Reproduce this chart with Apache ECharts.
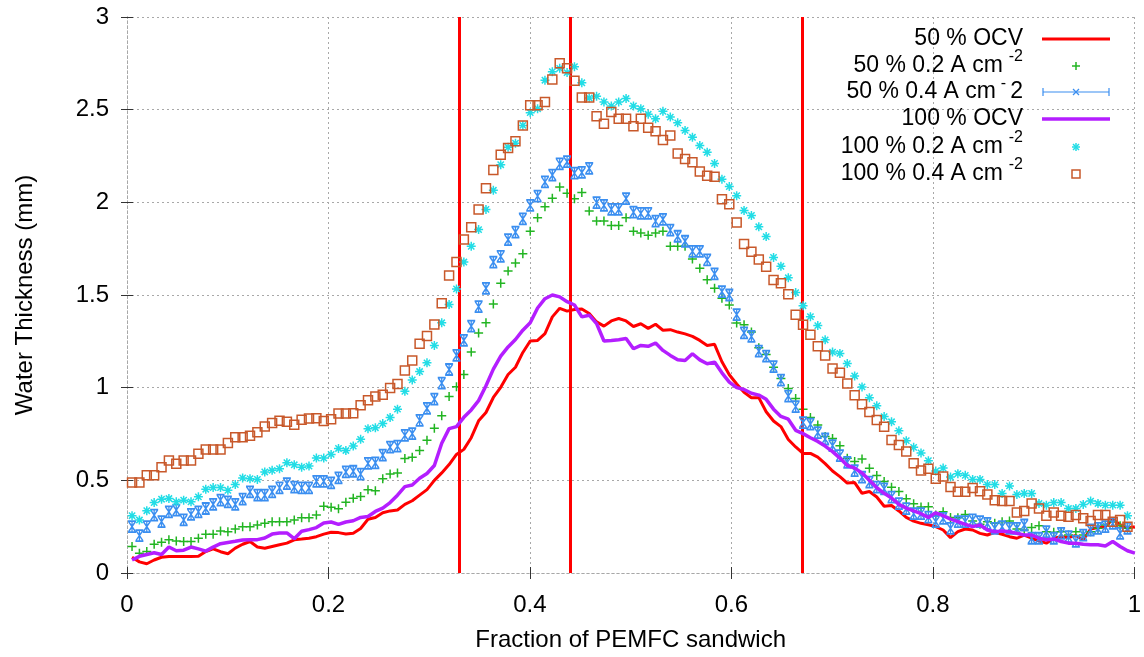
<!DOCTYPE html>
<html><head><meta charset="utf-8">
<script src="https://cdn.jsdelivr.net/npm/echarts@6/dist/echarts.min.js"></script>
<style>html,body{margin:0;padding:0;background:#fff}#c{width:1144px;height:657px}</style>
</head><body><div id="c"></div>
<script>
// sampling grid along the sandwich (fraction)
const xStart = 0.005, xStep = 0.00732;

const xTicks = [0, 0.2, 0.4, 0.6, 0.8, 1];
const yTicks = [0, 0.5, 1, 1.5, 2, 2.5, 3];
const dividers = [0.327, 0.438, 0.672];

const seriesNames = ['50 % OCV', '50 % 0.2 A cm-2', '50 % 0.4 A cm-2', '100 % OCV', '100 % 0.2 A cm-2', '100 % 0.4 A cm-2'];

// 50 % OCV (red line)
const red50 = [0.085,0.06,0.05,0.07,0.085,0.089,0.089,0.089,0.089,0.09,0.116,0.13,0.115,0.104,0.134,0.155,0.17,0.14,0.134,0.143,
0.152,0.161,0.179,0.183,0.188,0.196,0.21,0.22,0.218,0.21,0.215,0.24,0.29,0.299,0.325,0.335,0.34,0.37,0.39,0.42,
0.45,0.50,0.54,0.585,0.64,0.667,0.73,0.821,0.866,0.947,1.002,1.071,1.11,1.19,1.252,1.255,1.292,1.382,1.428,1.413,
1.422,1.424,1.40,1.355,1.332,1.36,1.373,1.36,1.33,1.345,1.32,1.342,1.31,1.313,1.30,1.29,1.277,1.255,1.228,1.234,
1.14,1.07,1.02,0.975,0.946,0.946,0.87,0.82,0.79,0.72,0.68,0.645,0.645,0.625,0.59,0.55,0.52,0.485,0.488,0.43,
0.44,0.41,0.36,0.364,0.335,0.30,0.28,0.268,0.26,0.25,0.232,0.191,0.223,0.2375,0.232,0.214,0.205,0.22,0.209,0.196,
0.1875,0.205,0.1875,0.173,0.161,0.1875,0.196,0.191,0.202,0.179,0.2375,0.245,0.25,0.29,0.26,0.241,0.25];

// 50 % 0.2 A cm-2 (green +)
const green50 = [0.143,0.107,0.116,0.155,0.166,0.179,0.173,0.17,0.17,0.188,0.209,0.209,0.227,0.223,0.238,0.25,0.25,0.259,0.268,0.277,
0.277,0.277,0.286,0.298,0.298,0.313,0.36,0.355,0.346,0.382,0.404,0.413,0.449,0.444,0.509,0.534,0.54,0.618,0.625,0.661,
0.716,0.781,0.848,0.953,1.005,1.071,1.192,1.295,1.35,1.451,1.563,1.63,1.672,1.723,1.844,1.917,1.976,2.022,2.083,2.049,
2.02,2.053,1.953,1.899,1.899,1.875,1.875,1.917,1.844,1.835,1.822,1.835,1.844,1.763,1.763,1.763,1.694,1.645,1.582,1.536,
1.482,1.446,1.349,1.34,1.30,1.215,1.179,1.11,1.05,0.995,0.941,0.884,0.839,0.798,0.737,0.726,0.687,0.619,0.601,0.615,
0.565,0.526,0.494,0.463,0.44,0.401,0.374,0.356,0.357,0.3125,0.33,0.30,0.298,0.316,0.28,0.2625,0.277,0.268,0.277,0.28,
0.2375,0.232,0.245,0.255,0.223,0.22,0.223,0.205,0.223,0.205,0.223,0.241,0.259,0.277,0.255,0.241,0.232];

// 50 % 0.4 A cm-2 (blue error-bar markers)
const blue50 = [0.25,0.202,0.25,0.3125,0.277,0.33,0.339,0.286,0.316,0.33,0.348,0.37,0.393,0.384,0.37,0.398,0.438,0.42,0.42,0.438,
0.459,0.482,0.464,0.459,0.459,0.495,0.495,0.486,0.513,0.545,0.549,0.534,0.591,0.594,0.636,0.679,0.685,0.743,0.752,0.824,
0.888,0.938,1.025,1.098,1.174,1.255,1.332,1.437,1.536,1.678,1.708,1.799,1.839,1.911,1.984,2.034,2.11,2.147,2.207,2.219,
2.158,2.161,2.183,1.998,1.984,1.962,1.962,2.02,1.947,1.94,1.94,1.899,1.908,1.85,1.817,1.79,1.736,1.736,1.69,1.614,
1.518,1.50,1.394,1.295,1.277,1.197,1.17,1.113,1.041,0.955,0.898,0.812,0.803,0.758,0.723,0.687,0.633,0.597,0.553,0.517,
0.49,0.463,0.454,0.41,0.374,0.347,0.32,0.32,0.302,0.277,0.295,0.241,0.277,0.277,0.286,0.277,0.268,0.241,0.25,0.241,
0.241,0.259,0.1875,0.1875,0.223,0.1875,0.214,0.196,0.17,0.205,0.232,0.241,0.25,0.268,0.214,0.241,0.241];

// 100 % OCV (purple line)
const purple100 = [0.07,0.09,0.10,0.109,0.10,0.14,0.12,0.123,0.14,0.13,0.118,0.14,0.158,0.165,0.171,0.178,0.18,0.18,0.189,0.21,
0.216,0.216,0.185,0.225,0.234,0.245,0.27,0.275,0.262,0.275,0.282,0.30,0.305,0.332,0.35,0.38,0.42,0.466,0.475,0.511,
0.537,0.58,0.70,0.779,0.79,0.84,0.88,0.93,1.01,1.10,1.17,1.22,1.26,1.31,1.35,1.43,1.48,1.50,1.49,1.464,
1.446,1.382,1.391,1.346,1.252,1.255,1.259,1.265,1.21,1.228,1.223,1.241,1.201,1.174,1.15,1.147,1.183,1.15,1.129,1.138,
1.08,1.03,1.00,0.99,0.97,0.96,0.937,0.884,0.845,0.83,0.77,0.752,0.73,0.71,0.685,0.655,0.62,0.58,0.566,0.54,
0.50,0.46,0.43,0.405,0.37,0.35,0.335,0.32,0.30,0.325,0.31,0.291,0.277,0.2625,0.25,0.259,0.232,0.223,0.227,0.223,
0.214,0.205,0.205,0.1875,0.179,0.184,0.17,0.161,0.161,0.155,0.152,0.152,0.146,0.17,0.143,0.12,0.107];

// 100 % 0.2 A cm-2 (cyan stars)
const cyan100 = [0.309,0.286,0.336,0.38,0.398,0.402,0.384,0.393,0.384,0.411,0.452,0.461,0.461,0.446,0.477,0.513,0.509,0.505,0.545,0.554,
0.563,0.595,0.584,0.571,0.577,0.62,0.62,0.64,0.672,0.661,0.685,0.721,0.779,0.784,0.806,0.839,0.884,0.98,1.042,1.087,
1.134,1.228,1.35,1.449,1.533,1.678,1.763,1.853,1.962,2.065,2.203,2.297,2.319,2.415,2.484,2.505,2.659,2.705,2.723,2.70,
2.732,2.645,2.563,2.572,2.542,2.52,2.542,2.56,2.52,2.505,2.475,2.451,2.491,2.46,2.429,2.388,2.351,2.306,2.27,2.21,
2.125,2.085,2.036,1.956,1.929,1.868,1.815,1.703,1.655,1.593,1.513,1.442,1.383,1.335,1.258,1.192,1.185,1.13,1.063,1.004,
0.946,0.902,0.844,0.816,0.767,0.714,0.678,0.648,0.606,0.55,0.566,0.518,0.536,0.527,0.505,0.505,0.477,0.477,0.429,0.47,
0.423,0.429,0.429,0.375,0.366,0.38,0.38,0.348,0.348,0.37,0.388,0.375,0.366,0.366,0.366,0.309,0.295];

// 100 % 0.4 A cm-2 (brown squares)
const brown100 = [0.488,0.488,0.527,0.527,0.571,0.607,0.589,0.607,0.607,0.643,0.666,0.666,0.666,0.702,0.732,0.732,0.741,0.759,0.791,0.809,
0.821,0.816,0.80,0.827,0.834,0.835,0.82,0.83,0.86,0.861,0.862,0.905,0.932,0.953,0.962,0.998,1.02,1.092,1.147,1.237,
1.279,1.341,1.455,1.605,1.678,1.799,1.866,1.962,2.076,2.174,2.257,2.293,2.33,2.415,2.524,2.524,2.542,2.663,2.75,2.723,
2.656,2.565,2.565,2.464,2.424,2.487,2.451,2.451,2.41,2.451,2.402,2.384,2.337,2.36,2.264,2.234,2.216,2.167,2.143,2.138,
2.016,1.989,1.891,1.775,1.733,1.692,1.653,1.581,1.564,1.504,1.394,1.34,1.286,1.224,1.174,1.104,1.08,1.023,0.959,0.911,
0.869,0.825,0.789,0.717,0.69,0.655,0.592,0.553,0.562,0.509,0.521,0.464,0.438,0.438,0.459,0.441,0.423,0.393,0.388,0.388,
0.327,0.334,0.375,0.348,0.309,0.327,0.309,0.304,0.3125,0.295,0.28,0.3125,0.3125,0.277,0.286,0.25,0.2375];

const xs = red50.map((_, i) => +(xStart + i * xStep).toFixed(5));
const pts = ys => ys.map((y, i) => [xs[i], y]);

const C = {red:'#ff0000', green:'#22b522', blue:'#3a8ef0', purple:'#b41eff', cyan:'#22dde6', brown:'#c8582a'};
const PLUS = 'path://M5,0L5,10M0,5L10,5';
const STAR = 'path://M5,0L5,10M0,5L10,5M1.5,1.5L8.5,8.5M8.5,1.5L1.5,8.5';
const HOUR = 'path://M0,0L8,0M0,12L8,12M4,0L4,12M0.6,0.6L7.4,11.4M7.4,0.6L0.6,11.4';

const FONT = '"Liberation Sans", Arial, sans-serif';
const gridLine = {show:true, lineStyle:{color:'#a8a8a8', type:[2,3], width:1}};
const tick = {show:true, inside:true, length:6, lineStyle:{color:'#333', width:1}};

const chart = echarts.init(document.getElementById('c'), null, {renderer:'canvas'});

const L = {x:1023, rows:[39, 66, 92, 119, 147, 174], sx1:1042, sx2:1110, sc:1076};
const font = '23px ' + FONT, supFont = '16px ' + FONT;
function txt(t, x, y, f, align) {
  return {type:'text', x, y, z:100, style:{text:t, font:f || font, fill:'#000', align:align||'right', verticalAlign:'middle', textAlign:align||'right', textVerticalAlign:'middle'}};
}
const legendGfx = [
  txt(seriesNames[0], L.x, L.rows[0]),
  txt('50 % 0.2 A cm', 1003, L.rows[1]), txt('-2', L.x, L.rows[1]-9, supFont),
  txt('50 % 0.4 A cm', 996, L.rows[2]), txt('-', 1006, L.rows[2]-8, supFont), txt('2', L.x, L.rows[2]),
  txt(seriesNames[3], L.x, L.rows[3]),
  txt('100 % 0.2 A cm', 1003, L.rows[4]), txt('-2', L.x, L.rows[4]-9, supFont),
  txt('100 % 0.4 A cm', 1003, L.rows[5]), txt('-2', L.x, L.rows[5]-9, supFont),
  {type:'line', z:100, shape:{x1:L.sx1, y1:L.rows[0], x2:L.sx2, y2:L.rows[0]}, style:{stroke:C.red, lineWidth:3}},
  {type:'group', z:100, children:[
    {type:'line', shape:{x1:L.sc-4, y1:L.rows[1], x2:L.sc+4, y2:L.rows[1]}, style:{stroke:C.green, lineWidth:1.5}},
    {type:'line', shape:{x1:L.sc, y1:L.rows[1]-4, x2:L.sc, y2:L.rows[1]+4}, style:{stroke:C.green, lineWidth:1.5}}]},
  {type:'group', z:100, children:[
    {type:'line', shape:{x1:L.sx1+1, y1:L.rows[2], x2:L.sx2-1, y2:L.rows[2]}, style:{stroke:C.blue, lineWidth:1.2}},
    {type:'line', shape:{x1:L.sx1+1, y1:L.rows[2]-4, x2:L.sx1+1, y2:L.rows[2]+4}, style:{stroke:C.blue, lineWidth:1.2}},
    {type:'line', shape:{x1:L.sx2-1, y1:L.rows[2]-4, x2:L.sx2-1, y2:L.rows[2]+4}, style:{stroke:C.blue, lineWidth:1.2}},
    {type:'line', shape:{x1:L.sc-3, y1:L.rows[2]-3, x2:L.sc+3, y2:L.rows[2]+3}, style:{stroke:C.blue, lineWidth:1.2}},
    {type:'line', shape:{x1:L.sc-3, y1:L.rows[2]+3, x2:L.sc+3, y2:L.rows[2]-3}, style:{stroke:C.blue, lineWidth:1.2}}]},
  {type:'line', z:100, shape:{x1:L.sx1, y1:L.rows[3], x2:L.sx2, y2:L.rows[3]}, style:{stroke:C.purple, lineWidth:3.5}},
  {type:'group', z:100, children:[
    {type:'line', shape:{x1:L.sc-4, y1:L.rows[4], x2:L.sc+4, y2:L.rows[4]}, style:{stroke:C.cyan, lineWidth:1.5}},
    {type:'line', shape:{x1:L.sc, y1:L.rows[4]-4, x2:L.sc, y2:L.rows[4]+4}, style:{stroke:C.cyan, lineWidth:1.5}},
    {type:'line', shape:{x1:L.sc-3, y1:L.rows[4]-3, x2:L.sc+3, y2:L.rows[4]+3}, style:{stroke:C.cyan, lineWidth:1.5}},
    {type:'line', shape:{x1:L.sc-3, y1:L.rows[4]+3, x2:L.sc+3, y2:L.rows[4]-3}, style:{stroke:C.cyan, lineWidth:1.5}}]},
  {type:'rect', z:100, shape:{x:L.sc-4, y:L.rows[5]-4, width:8, height:8}, style:{stroke:C.brown, fill:'none', lineWidth:1.5}}
];

function scatter(name, data, symbol, size, color, z) {
  return {name, type:'scatter', data, symbol, symbolSize:size, z, silent:true,
    itemStyle:{color:'none', borderColor:color, borderWidth:1.5, opacity:1}};
}

chart.setOption({
  animation:false,
  backgroundColor:'#fff',
  textStyle:{fontFamily:FONT},
  grid:{left:127, right:7, top:17, bottom:80},
  xAxis:[{type:'value', min:0, max:1, interval:0.2,
    name:'Fraction of PEMFC sandwich', nameLocation:'middle', nameGap:55,
    nameTextStyle:{fontSize:24, color:'#000', fontFamily:FONT},
    axisLabel:{fontSize:24, color:'#000', margin:20, fontFamily:FONT,
      formatter: v => { const t = xTicks.find(k => Math.abs(k - v) < 1e-9); return t === undefined ? '' : String(t); }},
    axisLine:{show:true, onZero:false, lineStyle:{color:'#a8a8a8', type:[2,3]}},
    axisTick:tick, splitLine:gridLine},
   {type:'value', min:0, max:1, interval:0.2, position:'top', axisLabel:{show:false},
    axisLine:{show:true, lineStyle:{color:'#a8a8a8', type:[2,3]}}, axisTick:tick, splitLine:{show:false}}],
  yAxis:[{type:'value', min:0, max:3, interval:0.5,
    name:'Water Thickness (mm)', nameLocation:'middle', nameGap:90,
    nameTextStyle:{fontSize:24, color:'#000', fontFamily:FONT},
    axisLabel:{fontSize:24, color:'#000', margin:18, fontFamily:FONT,
      formatter: v => { const t = yTicks.find(k => Math.abs(k - v) < 1e-9); return t === undefined ? '' : String(t); }},
    axisLine:{show:true, onZero:false, lineStyle:{color:'#a8a8a8', type:[2,3]}},
    axisTick:tick, splitLine:gridLine},
   {type:'value', min:0, max:3, interval:0.5, position:'right', axisLabel:{show:false},
    axisLine:{show:true, lineStyle:{color:'#a8a8a8', type:[2,3]}}, axisTick:tick, splitLine:{show:false}}],
  graphic:legendGfx,
  series:[
    {name:seriesNames[0], type:'line', data:pts(red50), showSymbol:false, symbol:'none', z:3, silent:true,
     lineStyle:{color:C.red, width:3}},
    scatter(seriesNames[1], pts(green50), PLUS, 9, C.green, 4),
    scatter(seriesNames[2], pts(blue50), HOUR, [8,11], C.blue, 5),
    {name:seriesNames[3], type:'line', data:pts(purple100), showSymbol:false, symbol:'none', z:6, silent:true,
     lineStyle:{color:C.purple, width:3.5}},
    scatter(seriesNames[4], pts(cyan100), STAR, 9, C.cyan, 7),
    Object.assign(scatter(seriesNames[5], pts(brown100), 'rect', 9, C.brown, 8), {
      markLine:{silent:true, symbol:'none', label:{show:false}, animation:false,
        lineStyle:{color:C.red, width:3, type:'solid'},
        data: dividers.map(d => ({xAxis:d}))}})
  ]
});
</script></body></html>
